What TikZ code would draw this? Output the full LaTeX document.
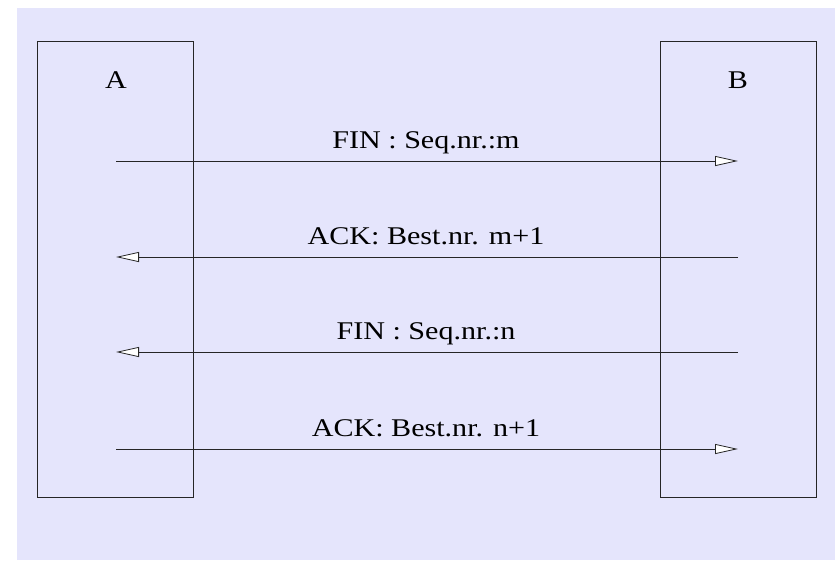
\documentclass[tikz,border=0pt]{standalone}
\usepackage{fontspec}
\setmainfont{Liberation Serif}
\usetikzlibrary{arrows.meta}
\definecolor{panel}{RGB}{229,229,252}
% text set slightly wide, as in the drawing
\newcommand{\widetext}[1]{\scalebox{1.18}[1]{#1}}
\begin{document}
\begin{tikzpicture}[x=1pt,y={(0pt,-1pt)},
  party/.style={draw=black!85, line width=0.9pt, minimum width=156pt, minimum height=456pt, inner sep=0pt},
  partyname/.style={font=\fontsize{25.5}{28}\selectfont, inner sep=0pt, anchor=base},
  msg/.style={draw=black!85, line width=0.8pt, -{Triangle[length=23pt, width=10pt, fill=white]}},
  msglabel/.style={font=\fontsize{25.5}{28}\selectfont, inner sep=0pt, anchor=base}]
  \useasboundingbox (0,0) rectangle (835,560);
  \fill[panel] (17,8) rectangle (835,560);

  % the two communicating parties
  \node[party] (A) at (115,269) {};
  \node[party] (B) at (738.5,269) {};
  \node[partyname] (Alabel) at (116,88) {\widetext{A}};
  \node[partyname] (Blabel) at (738,88) {\widetext{B}};

  % end points of the message lines
  \coordinate (a1) at (116,161); \coordinate (b1) at (738,161);
  \coordinate (a2) at (116,257); \coordinate (b2) at (738,257);
  \coordinate (a3) at (116,352); \coordinate (b3) at (738,352);
  \coordinate (a4) at (116,449); \coordinate (b4) at (738,449);

  % connection teardown messages
  \draw[msg] (a1) -- (b1);
  \draw[msg] (b2) -- (a2);
  \draw[msg] (b3) -- (a3);
  \draw[msg] (a4) -- (b4);

  \node[msglabel] (l1) at (426,148) {\widetext{FIN : Seq.nr.:m}};
  \node[msglabel] (l2) at (426,244) {\widetext{ACK: Best.nr. m+1}};
  \node[msglabel] (l3) at (426,339) {\widetext{FIN : Seq.nr.:n}};
  \node[msglabel] (l4) at (426,436) {\widetext{ACK: Best.nr. n+1}};
\end{tikzpicture}
\end{document}
